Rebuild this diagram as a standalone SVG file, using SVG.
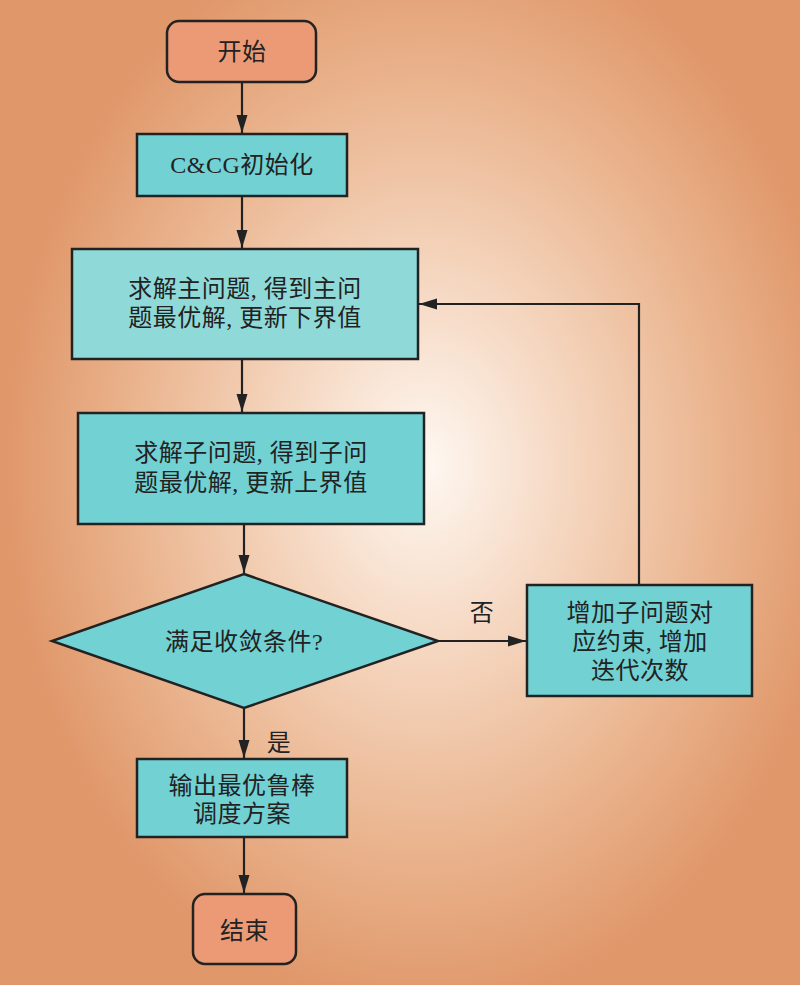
<svg xmlns="http://www.w3.org/2000/svg" width="800" height="985" viewBox="0 0 800 985">
<defs>
<radialGradient id="bg" gradientUnits="userSpaceOnUse" cx="425" cy="465" r="420" gradientTransform="translate(425 465) scale(1 1.3) translate(-425 -465)">
<stop offset="0" stop-color="#fef8f2"/>
<stop offset="0.35" stop-color="#f5d6bf"/>
<stop offset="0.7" stop-color="#eab48e"/>
<stop offset="1" stop-color="#e0976a"/>
</radialGradient>
<marker id="arr" markerUnits="userSpaceOnUse" markerWidth="18" markerHeight="12" viewBox="0 0 18 12" refX="18" refY="6" orient="auto">
<path d="M0,0.5 L18,6 L0,11.5 Z" fill="#222"/>
</marker>
</defs>
<style>
.term{fill:#eb9a75;stroke:#222;stroke-width:2.5}
.proc{fill:#72d1d3;stroke:#222;stroke-width:2.5}
.proc2{fill:#8fdad8;stroke:#222;stroke-width:2.5}
.t{font-family:"Liberation Serif","Noto Sans CJK SC",serif;font-size:24px;fill:#222;text-anchor:middle;letter-spacing:0.5px}
.edge{fill:none;stroke:#222;stroke-width:2.2;marker-end:url(#arr)}
</style>
<rect x="0" y="0" width="800" height="985" fill="url(#bg)"/>
<g id="connectors">
<path class="edge" d="M242,82 L242,133"/>
<path class="edge" d="M242,196 L242,248"/>
<path class="edge" d="M242,359 L242,412"/>
<path class="edge" d="M244,524 L244,573"/>
<path class="edge" d="M438,641 L526,641"/>
<path class="edge" d="M639,585 L639,304 L419,304"/>
<path class="edge" d="M244,708 L244,758"/>
<path class="edge" d="M244,837 L244,893"/>
<text class="t" x="482" y="621">否</text>
<text class="t" x="279" y="751">是</text>
</g>
<g id="start">
<rect class="term" x="167" y="21" width="149" height="61" rx="12"/>
<text class="t" x="242" y="60">开始</text>
</g>
<g id="init">
<rect class="proc" x="137" y="134" width="210" height="62"/>
<text class="t" x="242" y="173">C&amp;CG初始化</text>
</g>
<g id="master">
<rect class="proc2" x="72" y="249" width="346" height="110"/>
<text class="t" x="245" y="297">求解主问题, 得到主问</text>
<text class="t" x="245" y="326">题最优解, 更新下界值</text>
</g>
<g id="sub">
<rect class="proc" x="78" y="413" width="346" height="111"/>
<text class="t" x="251" y="461">求解子问题, 得到子问</text>
<text class="t" x="251" y="491">题最优解, 更新上界值</text>
</g>
<g id="decision">
<polygon class="proc" points="244,574 438,641 244,708 52,641"/>
<text class="t" x="244" y="650">满足收敛条件?</text>
</g>
<g id="addcut">
<rect class="proc" x="527" y="585" width="225" height="111"/>
<text class="t" x="640" y="621">增加子问题对</text>
<text class="t" x="640" y="650">应约束, 增加</text>
<text class="t" x="640" y="679">迭代次数</text>
</g>
<g id="output">
<rect class="proc" x="137" y="759" width="210" height="78"/>
<text class="t" x="242" y="794">输出最优鲁棒</text>
<text class="t" x="242" y="822">调度方案</text>
</g>
<g id="end">
<rect class="term" x="193" y="894" width="103" height="70" rx="12"/>
<text class="t" x="244.5" y="939">结束</text>
</g>
</svg>
